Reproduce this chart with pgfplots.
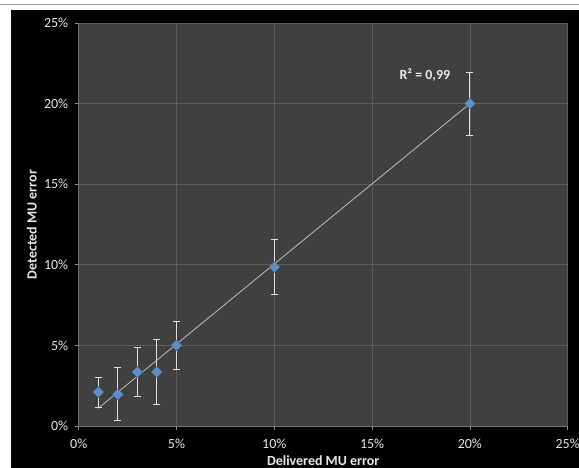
\documentclass[border=0pt]{standalone}
\usepackage{fontspec}
\setmainfont{Carlito}
\usepackage{pgfplots}
\pgfplotsset{compat=1.18}
\definecolor{plotbg}{HTML}{404040}
\definecolor{gridc}{HTML}{5C5C5C}
\definecolor{txt}{HTML}{E8E8E8}
\definecolor{mk}{HTML}{4F81BD}
\definecolor{errc}{HTML}{E0E0E0}
\begin{document}
\begin{tikzpicture}
\path[use as bounding box] (-78.7bp,-42bp) rectangle (500.3bp,426bp);
\fill[white] (-78.7bp,-42bp) rectangle (500.3bp,426bp);
\fill[black] (-67.7bp,-42bp) rectangle (500.3bp,416bp);
\draw[gray!80, line width=1bp] (-78.7bp,421.5bp) -- (500.3bp,421.5bp);
\begin{axis}[
  at={(0,0)}, anchor=south west,
  scale only axis, width=489bp, height=403bp,
  xmin=0, xmax=25, ymin=0, ymax=25,
  axis background/.style={fill=plotbg},
  grid=major, grid style={gridc, line width=0.8bp},
  axis x line*=bottom, axis y line*=left,
  axis line style={draw=gridc!85!white, line width=0.8bp, -},
  tick align=outside, major tick length=4bp,
  tick style={gridc!70!white, line width=0.8bp},
  xtick={0,5,10,15,20,25}, ytick={0,5,10,15,20,25},
  xticklabels={0\%,5\%,10\%,15\%,20\%,25\%},
  yticklabels={0\%,5\%,10\%,15\%,20\%,25\%},
  ticklabel style={font=\fontsize{14}{16}\selectfont, text=txt},
  xticklabel style={yshift=-5bp},
  yticklabel style={xshift=-3bp},
  xlabel={Delivered MU error}, ylabel={Detected MU error},
  xlabel style={font=\bfseries\fontsize{14}{16}\selectfont, text=txt, at={(axis description cs:0.5,-0.0868)}, anchor=center},
  ylabel style={font=\bfseries\fontsize{14}{16}\selectfont, text=txt, at={(axis description cs:-0.0961,0.5)}, anchor=center},
  clip=false,
]
\addplot[color=errc!85!black, line width=0.8bp] coordinates {(1,1.1) (20,20.0)};
\addplot[only marks, mark=square*, mark size=3.9bp,
  mark options={rotate=45, fill=mk!90!white, draw=mk!80!black, line width=0.4bp},
  error bars/.cd, y dir=both, y explicit,
  error bar style={color=errc, line width=1bp},
  error mark options={color=errc, line width=1bp, mark size=3.5bp, rotate=90}]
  coordinates {
  (1,2.10) +- (0,0.93)
  (2,1.97) +- (0,1.65)
  (3,3.35) +- (0,1.49)
  (4,3.35) +- (0,2.02)
  (5,5.00) +- (0,1.47)
  (10,9.86) +- (0,1.70)
  (20,20.0) +- (0,1.95)
  };
\node[font=\bfseries\fontsize{14}{16}\selectfont, text=txt] at (axis cs:17.7,21.75) {R² = 0,99};
\end{axis}
\end{tikzpicture}
\end{document}
